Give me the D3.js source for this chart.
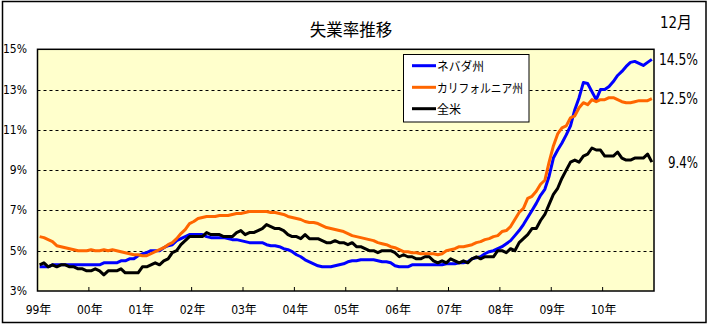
<!DOCTYPE html>
<html><head><meta charset="utf-8">
<script src="https://cdn.jsdelivr.net/npm/d3@7"></script>
<style>body{margin:0;background:#fff}svg{display:block}</style>
</head><body>
<svg id="c" width="709" height="325"></svg>
<script>
// ---- data ----
const title = "失業率推移";
const monthLabel = "12月";
const yearLabels = ["99年","00年","01年","02年","03年","04年","05年","06年","07年","08年","09年","10年"];
const yTicks = [3,5,7,9,11,13,15];
const seriesNames = ["ネバダ州","カリフォルニア州","全米"];
const seriesColors = ["#0000FF","#FF6600","#000000"];
const endLabels = ["14.5%","12.5%","9.4%"];

const nevada = [
 4.2,4.2,4.2,4.3,4.3,4.3,4.3,4.3,4.3,4.3,4.3,4.3,
 4.3,4.3,4.3,4.4,4.4,4.4,4.4,4.5,4.5,4.6,4.6,4.75,
 4.85,4.9,5.0,5.0,5.0,5.15,5.25,5.3,5.5,5.6,5.7,5.8,
 5.8,5.8,5.8,5.7,5.65,5.65,5.65,5.65,5.6,5.55,5.55,5.5,
 5.45,5.4,5.4,5.4,5.4,5.3,5.25,5.25,5.2,5.1,5.05,4.95,
 4.8,4.7,4.55,4.45,4.35,4.25,4.2,4.2,4.2,4.25,4.3,4.35,
 4.45,4.5,4.5,4.55,4.55,4.55,4.55,4.5,4.45,4.45,4.4,4.25,
 4.2,4.2,4.2,4.3,4.3,4.3,4.3,4.3,4.3,4.3,4.3,4.35,
 4.35,4.35,4.4,4.4,4.45,4.6,4.65,4.7,4.85,4.95,5.0,5.1,
 5.2,5.35,5.5,5.75,6.0,6.3,6.65,7.0,7.35,7.75,8.05,8.7,
 9.6,10.0,10.35,10.75,11.2,12.0,12.6,13.35,13.3,12.9,12.5,13.0,
 13.0,13.15,13.4,13.7,13.9,14.15,14.35,14.4,14.3,14.2,14.35,14.5
];
const california = [
 5.7,5.65,5.55,5.45,5.25,5.2,5.15,5.1,5.05,5.0,5.0,5.0,
 5.05,5.0,5.0,5.05,5.0,5.05,5.0,4.95,4.9,4.85,4.8,4.8,
 4.75,4.75,4.85,4.95,5.05,5.15,5.3,5.4,5.6,5.85,6.05,6.35,
 6.45,6.6,6.65,6.7,6.7,6.7,6.75,6.75,6.75,6.8,6.85,6.85,
 6.9,6.95,6.95,6.95,6.95,6.95,6.9,6.9,6.85,6.8,6.7,6.65,
 6.6,6.55,6.45,6.4,6.4,6.35,6.25,6.15,6.1,6.05,6.0,5.95,
 5.85,5.75,5.7,5.65,5.6,5.55,5.5,5.4,5.35,5.3,5.2,5.15,
 5.05,4.95,4.95,4.9,4.9,4.85,4.85,4.85,4.85,4.8,4.85,5.0,
 5.05,5.1,5.2,5.2,5.25,5.3,5.4,5.45,5.55,5.6,5.7,5.75,
 5.95,6.0,6.2,6.55,6.9,7.1,7.6,7.7,7.95,8.3,8.5,9.4,
 10.2,10.8,11.1,11.2,11.6,11.7,12.1,12.35,12.25,12.5,12.4,12.5,
 12.5,12.6,12.6,12.5,12.4,12.35,12.35,12.4,12.45,12.45,12.45,12.55
];
const usa = [
 4.3,4.4,4.2,4.3,4.2,4.3,4.3,4.2,4.2,4.1,4.1,4.0,
 4.0,4.1,4.0,3.8,4.0,4.0,4.0,4.1,3.9,3.9,3.9,3.9,
 4.2,4.2,4.3,4.4,4.3,4.5,4.6,4.9,5.0,5.3,5.5,5.7,
 5.7,5.7,5.7,5.9,5.8,5.8,5.8,5.7,5.7,5.7,5.9,6.0,
 5.8,5.9,5.9,6.0,6.1,6.3,6.2,6.1,6.1,6.0,5.8,5.7,
 5.7,5.6,5.8,5.6,5.6,5.6,5.5,5.4,5.4,5.5,5.4,5.4,
 5.3,5.4,5.2,5.2,5.1,5.0,5.0,4.9,5.0,5.0,5.0,4.9,
 4.7,4.8,4.7,4.7,4.6,4.6,4.7,4.7,4.5,4.4,4.5,4.4,
 4.6,4.5,4.4,4.5,4.4,4.6,4.7,4.6,4.7,4.7,4.7,5.0,
 5.0,4.9,5.1,5.0,5.4,5.6,5.8,6.1,6.1,6.5,6.8,7.3,
 7.8,8.1,8.6,9.0,9.4,9.5,9.4,9.7,9.8,10.1,10.0,10.0,
 9.7,9.7,9.7,9.9,9.6,9.5,9.5,9.6,9.6,9.6,9.8,9.4
];
const seriesData = [nevada, california, usa];

// ---- layout ----
const narrow = "'Liberation Sans Narrow','Arial Narrow','DejaVu Sans Condensed','Noto Sans CJK JP',sans-serif";
const cjk = "'Noto Sans CJK JP','Noto Sans CJK SC',sans-serif";
const svg = d3.select("#c");
const L = 37.5, R = 654, T = 49.3, B = 291;
const nMonths = nevada.length;
const x = d3.scaleLinear().domain([0, nMonths]).range([L, R]);
const y = d3.scaleLinear().domain([3, 15]).range([B, T]);

// outer frame
svg.append("rect").attr("x",2.5).attr("y",1.5).attr("width",703.5).attr("height",321)
  .attr("fill","#fff").attr("stroke","#000").attr("stroke-width",1.5);

// plot area
svg.append("rect").attr("x",L).attr("y",T).attr("width",R-L).attr("height",B-T)
  .attr("fill","#FFFFCC");

// gridlines
svg.append("g").selectAll("line").data(yTicks.filter(d=>d>3 && d<15)).join("line")
  .attr("x1",L).attr("x2",R).attr("y1",d=>Math.round(y(d))+0.5).attr("y2",d=>Math.round(y(d))+0.5)
  .attr("stroke","#000").attr("stroke-width",1).attr("stroke-dasharray","3,3");

// y axis labels
svg.append("g").selectAll("text").data(yTicks).join("text")
  .attr("x",27).attr("y",d=>y(d)).attr("text-anchor","end").attr("dominant-baseline","central")
  .attr("font-family",narrow).attr("font-size",12).text(d=>d+"%");

// x axis ticks (inside)
const tickIdx = yearLabels.map((_,k)=>k*12);
svg.append("g").selectAll("line").data(tickIdx.slice(1)).join("line")
  .attr("x1",d=>x(d)).attr("x2",d=>x(d)).attr("y1",B).attr("y2",B-4)
  .attr("stroke","#000").attr("stroke-width",1);

// x labels
svg.append("g").selectAll("text").data(yearLabels).join("text")
  .attr("x",(d,k)=>x(k*12)+1).attr("y",310).attr("text-anchor","middle").attr("dominant-baseline","central")
  .attr("font-family",narrow).attr("font-size",12).text(d=>d);

// lines
const line = d3.line().x((d,i)=>x(i+0.5)).y(d=>y(d));
seriesData.forEach((s,k)=>{
  svg.append("path").datum(s).attr("d",line).attr("fill","none")
    .attr("stroke",seriesColors[k]).attr("stroke-width",3).attr("stroke-linejoin","round");
});

// plot border
svg.append("rect").attr("x",L).attr("y",T).attr("width",R-L).attr("height",B-T)
  .attr("fill","none").attr("stroke","#000").attr("stroke-width",1.5);

// end labels
const endW = [39, 39, 30];
seriesData.forEach((s,k)=>{
  svg.append("text").attr("x",698 - endW[k]).attr("y",y(s[s.length-1])).attr("text-anchor","start")
    .attr("dominant-baseline","central").attr("font-family",narrow).attr("font-size",16)
    .attr("textLength",endW[k]).attr("lengthAdjust","spacingAndGlyphs")
    .text(endLabels[k]);
});

// title
svg.append("text").attr("x",351).attr("y",29).attr("text-anchor","middle").attr("dominant-baseline","central")
  .attr("font-family",cjk).attr("font-size",16.5).text(title);
svg.append("text").attr("x",660).attr("y",22).attr("dominant-baseline","central")
  .attr("font-family",narrow).attr("font-size",16)
  .attr("textLength",32).attr("lengthAdjust","spacingAndGlyphs").text(monthLabel);

// legend
const lg = svg.append("g");
lg.append("rect").attr("x",403.5).attr("y",54.5).attr("width",125.5).attr("height",67.5)
  .attr("fill","#fff").attr("stroke","#000").attr("stroke-width",1);
const legY = [65.7, 87.3, 108.7];
const legW = [47, 86, 24];
seriesNames.forEach((n,k)=>{
  lg.append("line").attr("x1",412).attr("x2",436).attr("y1",legY[k]).attr("y2",legY[k])
    .attr("stroke",seriesColors[k]).attr("stroke-width",3);
  lg.append("text").attr("x",437).attr("y",legY[k]).attr("dominant-baseline","central")
    .attr("font-family",cjk).attr("font-size",12.5)
    .attr("textLength",legW[k]).attr("lengthAdjust","spacingAndGlyphs").text(n);
});
</script>
</body></html>
